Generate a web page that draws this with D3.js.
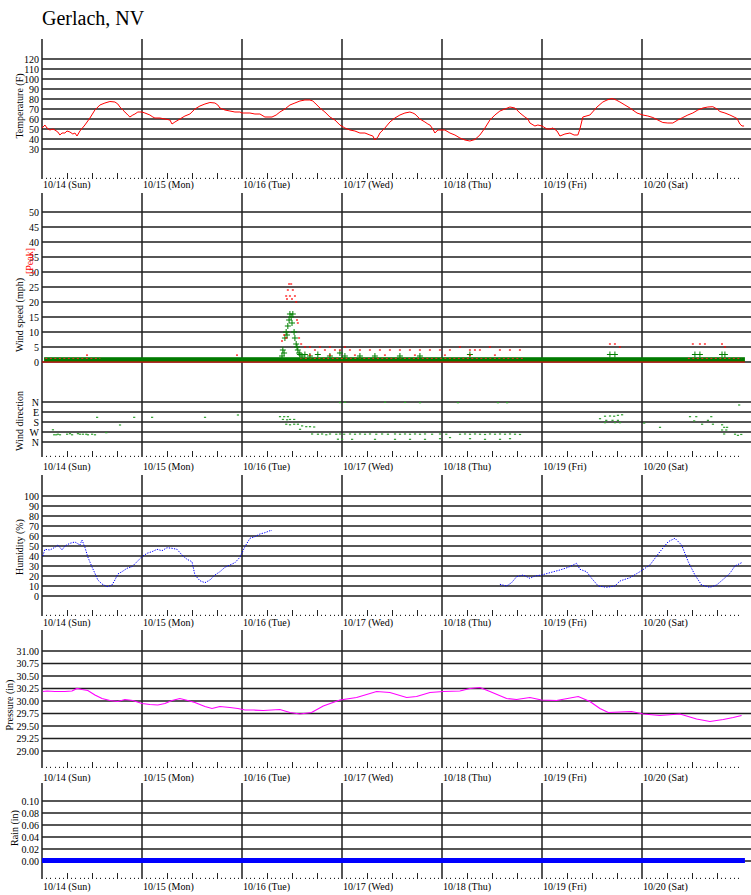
<!DOCTYPE html>
<html><head><meta charset="utf-8">
<script src="https://cdn.jsdelivr.net/npm/d3@7"></script>
<style>
body{margin:0;background:#fff}
</style>
</head><body>
<svg id="c" width="751" height="895"></svg>
<script>
// ---------------- DATA ----------------
const title = "Gerlach, NV";
const dayLabels = ["10/14 (Sun)","10/15 (Mon)","10/16 (Tue)","10/17 (Wed)","10/18 (Thu)","10/19 (Fri)","10/20 (Sat)"];
const tempTicks = [30,40,50,60,70,80,90,100,110,120];
const windTicks = [0,5,10,15,20,25,30,35,40,45,50];
const dirTicks = [0,90,180,270,360];
const dirLabels = ["N","E","S","W","N"];
const humTicks = [0,10,20,30,40,50,60,70,80,90,100];
const presTicks = [29.00,29.25,29.50,29.75,30.00,30.25,30.50,30.75,31.00];
const rainTicks = [0.00,0.02,0.04,0.06,0.08,0.10];

// [hours since 10/14 00:00, value]
const tempReadings = [[0,51],[0.5,53],[0.7,54],[1.2,51],[1.9,49],[2.6,50],[3.1,49],[3.8,47],[4.3,44],[4.8,46],[5.5,46],[6,48],[6.7,47],[7.4,45],[7.9,46],[8.4,43],[9.1,48],[10.3,54],[11.5,61],[12.7,69],[13.9,74],[15.1,76],[16.3,77.5],[17.5,77],[18.2,75],[18.7,72],[19.4,69],[19.9,67],[20.6,64],[21.1,62],[21.8,64],[22.3,65],[23,67],[23.5,67],[24,67],[24.7,66],[25.9,64],[26.6,62],[27.1,61],[28.3,61],[29.5,60],[30.7,59],[31.2,55],[31.9,57],[33.1,60],[34.3,63],[35.5,65],[36.7,70],[37.9,73],[39.1,75],[40.3,76.5],[41.5,76],[42.2,74],[42.7,71],[43.9,69],[45.1,68],[46.3,67],[47.5,67],[48,66],
[49.9,66],[51.1,65],[52.3,65],[53.5,62],[55.2,62],[56.2,64],[57.1,67],[58.3,70],[59.5,74],[60.7,76],[61.9,78],[63.1,79],[64.3,79],[65,78],[65.5,76],[66.7,71],[67.9,67],[69.1,62],[70.3,59],[71.5,54],[72.7,51],[73.9,49],[75.1,48],[76.3,46],[77.5,46],[78.7,44],[79.4,43],[79.9,39],[80.6,42],[81.1,46],[82.3,51],[83.5,57],[84.7,61],[85.9,64],[87.1,66],[88.3,67],[89,66],[89.5,65],[90.7,60],[91.9,57],[92.6,55],[93.1,54],[93.8,50],[94.3,46],[95,49],[95.5,49],[96.7,49],[97.9,46],[99.1,44],[100.3,41],[101.5,39],[102.7,38],[103.9,39.5],[105.1,44],[106.3,51],[107.5,59],[108.7,64],[109.9,68],[111.1,70],[112.3,72],[113.5,71],[114.7,66],[115.9,62],[116.6,60],[117.1,56],[118.3,53],[119,54],[120,53],[121.2,50],[121.9,50],[122.6,51],[123.6,48],[124.3,43],[125.5,45],[126.7,46],[127.7,44],[128.6,44],[129.1,50],[129.8,62],[131.5,64],[133.2,72],[134.6,77],[135.6,79],[136.8,80.5],[137.8,79],[138.7,77],[139.9,74],[141.1,71],[142.8,66],[144.2,64],[145.4,63],[146.6,61.5],[147.8,59],[149,56.5],[150.2,56],[151.4,56],[152.6,59],[153.8,61.5],[155,64],[156.2,66],[157.4,69],[158.6,71],[159.8,72],[161,72.3],[162,70],[162.7,67.5],[163.9,66],[165.1,64],[166.1,62],[166.8,60.5],[167.5,55],[168,53],[168.5,53]];

// average wind (green +) above the calm band
const windReadings = [[57.6,2],[57.8,4],[58.1,3],[58.3,8],[58.6,10],[58.8,9],[59.0,12],[59.3,14],[59.5,16],[59.8,15],[60.0,13],[60.2,16],[60.5,10],[60.7,8],[61.0,6],[61.2,5],[61.4,4],[61.7,3],[61.9,2.5],[62.4,2],[63.1,2.5],[64.3,2],[66.2,2.5],[69.1,2],[71.5,3],[72.7,2],[76.3,2],[79.9,2],[85.9,2],[90.7,2],[102.7,2.5],[136.3,2.5],[137.5,2.5],[156.7,2.5],[157.9,2.5],[163.2,2.5],[163.9,2.5]];
// calm periods: [start hour, end hour, speed]
const windCalm = [[0.5,168.7,1.6]];
// peak wind (red)
const peakReadings = [[59.3,26],[59.8,26],[59.0,24],[60.2,24],[58.6,22],[59.5,22],[60.7,22],[58.8,21],[60.0,21],[61.0,20],[61.2,14],[61.4,13],[58.1,9],[58.6,8],[61.7,8],[57.6,7],[62.2,6],[63.1,5],[64.3,5],[65.5,4],[66.7,5],[67.9,4],[69.1,5],[70.3,4],[71.5,4],[72.7,5],[73.9,4],[76.3,4],[78.7,4],[81.1,4],[83.5,4],[85.9,4],[88.3,4],[90.7,4],[93.1,4],[95.5,4],[97.9,4],[100.3,5],[102.7,4],[103.9,4],[105.1,4],[107.5,5],[109.9,4],[112.3,4],[114.7,4],[136.3,6],[137.5,6],[138.7,5],[156.2,6],[157.9,6],[159.1,6],[163.2,6],[163.9,5],
[10.8,2.3],[46.8,2.3],[64.3,2.3],[69.1,2.3],[75.1,2.3],[82.3,2.3],[89.5,2.3],[96.7,2.3],[102.7,2.3],[108.7,2.3]];
// spans of peak readings sitting on the calm band: [start, end]
const peakCalm = [[0.8,14],[62,116],[155,168]];
const peakCalmSpeed = 1.2;
const peakBase = [[0,0],[168.7,0]];

// wind direction [hour, degrees]
const dirReadings = [[2.6,250],[2.9,295],[3.4,295],[3.8,290],[4.3,295],[6,290],[6.7,285],[7.2,295],[8.6,285],[9.1,290],[9.8,290],[10.6,290],[11,295],[12,290],[12.7,295],[13.2,138],[15.4,276],[18.7,207],[22.1,138],[26.4,138],[39.1,138],[47,117],
[57.1,132],[58.1,132],[59,132],[57.8,157],[58.8,160],[59.5,157],[60.5,157],[58.6,200],[59.5,205],[60.5,200],[61.4,200],[62.4,215],[63.4,222],[64.3,222],[65.3,225],[61.9,246],[64.8,288],[66.2,290],[67.2,288],[68.2,295],[69.1,288],[70.6,290],[71.5,288],[72.7,3],[71.5,5],[72.5,290],[73.9,288],[75.1,290],[76.3,288],[77.5,290],[78.7,288],[71,335],[72,336],[74.4,336],[80.2,290],[81.6,288],[83,290],[84.7,288],[85.9,290],[87.1,288],[88.3,290],[89.5,288],[90.7,290],[91.9,288],[79.9,336],[84.7,336],[88.3,336],[91.9,336],[82.3,2],[87.1,4],[90.7,6],
[93.6,290],[95.5,288],[97,290],[97.9,320],[100.3,290],[101.5,288],[102.7,290],[103.9,288],[105.1,290],[106.3,292],[107.5,288],[108.7,290],[109.9,288],[111.1,290],[112.3,288],[113.5,290],[114.7,292],[99.8,6],[109.4,6],[111.6,6],[102.7,330],[106.3,336],[95.5,330],[109.9,336],[112.3,330],
[133.9,150],[135.1,128],[136.3,126],[137.3,128],[138.2,120],[139.2,115],[135.4,165],[136.9,165],[138.2,165],[135.1,186],[137.5,186],[138.7,186],[144.5,190],[148.3,228],
[155.5,132],[157,132],[160.6,132],[156.5,170],[159.8,165],[158.4,200],[161,200],[163.2,205],[163.7,228],[164.4,228],[163.2,252],[164.2,252],[163.7,288],[166.3,290],[167,300],[167.8,292],[167.3,27]];

const humReadings = [[0.2,40],[0.7,46.7],[1.9,46],[3.1,48.7],[3.8,51],[4.8,46],[5.5,50],[6.7,52.7],[7.9,54],[9.1,51],[9.6,56],[10.3,48.7],[11,39],[12,29],[12.7,22.7],[13.4,16],[14.4,12],[15.6,9.3],[16.8,11],[17.5,16],[18.2,22],[19.2,24.3],[20.4,27.7],[21.6,29.3],[22.8,34.3],[24,39.3],[25.2,42.7],[26.4,44.3],[27.6,46.7],[28.8,45.3],[30,48.3],[31.2,47.7],[32.4,46.7],[33.6,41],[34.8,36.7],[36,34.3],[36.7,21],[37.9,15.3],[39.1,13.3],[40.3,16],[41.5,21],[42.7,24.3],[43.9,28.7],[45.1,31],[46.3,33.3],[47.5,38.7],[48.7,49.3],[49.9,57.7],[51.1,59.3],[52.3,62],[53.5,63.3],[54.7,65.3],[55.2,65.5],
[80,null],
[109.9,11.7],[111.5,10],[112.7,13.3],[113.9,19.3],[115.5,21],[117.1,17.7],[118.3,20],[119.9,21],[121.9,23.3],[124.3,26],[126.3,28.7],[128.3,32.7],[129.1,26.7],[130.7,24.3],[131.9,17.7],[133.5,10],[135.5,8.7],[137.5,10],[138.7,15],[141.1,18.3],[143.5,24.3],[145.9,31],[148.3,44.3],[150.3,54.3],[151.9,57.7],[153.5,51],[155.1,34.3],[156.7,21],[158.3,11],[160.3,8.7],[161.9,11],[163.5,16.7],[165.1,22.7],[166.3,30],[167.9,33.3]];

const presReadings = [[0.2,30.19],[1.2,30.2],[3.1,30.19],[5.5,30.19],[7.2,30.2],[8.4,30.25],[9.6,30.23],[11,30.21],[12.7,30.12],[14.4,30.05],[16.3,30.01],[18.2,29.99],[19.9,30.03],[21.8,30.01],[24,29.95],[25.9,29.93],[27.8,29.92],[29.5,29.95],[31.2,30.01],[33.1,30.05],[35,30.01],[36.7,29.97],[39.1,29.89],[40.8,29.85],[42.7,29.89],[45.1,29.87],[47,29.85],[48.7,29.82],[50.7,29.82],[53.1,29.81],[57.1,29.83],[59.5,29.77],[61.9,29.74],[64.7,29.77],[67.5,29.9],[71.5,30.02],[75.5,30.07],[80.3,30.19],[83.5,30.17],[87.5,30.07],[89.9,30.09],[93.1,30.17],[96.3,30.19],[100.3,30.2],[102.7,30.25],[105.1,30.27],[107.5,30.19],[111.5,30.05],[113.9,30.03],[117.1,30.07],[119.9,30.02],[123.5,30.01],[128.7,30.09],[131.5,29.99],[133.9,29.85],[135.9,29.77],[141.5,29.79],[144.3,29.74],[148.3,29.71],[153.1,29.74],[157.1,29.64],[160.3,29.59],[163.5,29.63],[165.9,29.67],[167.9,29.71]];

const rainReadings = [[0,0],[24,0],[48,0],[72,0],[96,0],[120,0],[144,0],[168.7,0]];

// ---------------- DRAW ----------------
const FONT = "Liberation Serif";
const svg = d3.select("#c");
const W = 751;
const x = d3.scaleLinear().domain([0,168]).range([42,742]);

const yTemp = d3.scaleLinear().domain([0,140]).range([179,39]);
const yWind = d3.scaleLinear().domain([0,50]).range([362,212]);
const yDir  = d3.scaleLinear().domain([0,360]).range([402,442]);
const yHum  = d3.scaleLinear().domain([0,100]).range([596,496]);
const yPres = d3.scaleLinear().domain([29,31]).range([751,651]);
const yRain = d3.scaleLinear().domain([0,0.1]).range([861,801]);

const gridC = "#1e1e1e";

function txt(sel){ return sel.append("text").attr("font-family",FONT).attr("fill","#000"); }

txt(svg).attr("x",42).attr("y",25).attr("font-size",20).text(title);

function frame(top, bottom, labelY){
  const g = svg.append("g");
  const dayIdx = dayLabels.map((d,i)=>i);
  g.selectAll("line.day").data(dayIdx).enter().append("line")
    .attr("x1",d=>x(d*24)).attr("x2",d=>x(d*24))
    .attr("y1",top).attr("y2",bottom)
    .attr("stroke",gridC).attr("stroke-width",1.5);
  const hrs = d3.range(1,168).filter(h=>h%24!==0);
  g.selectAll("line.hr").data(hrs).enter().append("line")
    .attr("x1",h=>Math.round(x(h))+0.5).attr("x2",h=>Math.round(x(h))+0.5)
    .attr("y1",h=>h%6===0?bottom-6:bottom-1.2).attr("y2",bottom)
    .attr("stroke","#222").attr("stroke-width",1);
  g.selectAll("text.day").data(dayLabels).enter().append("text")
    .attr("font-family",FONT).attr("fill","#000")
    .attr("x",(d,i)=>x(i*24)+1).attr("y",labelY)
    .attr("font-size",10).text(d=>d);
}

function grid(scale, ticks, labels){
  const g = svg.append("g");
  g.selectAll("line").data(ticks).enter().append("line")
    .attr("x1",42).attr("x2",W)
    .attr("y1",d=>scale(d)).attr("y2",d=>scale(d))
    .attr("stroke",gridC).attr("stroke-width",1.5);
  g.selectAll("text").data(ticks).enter().append("text")
    .attr("font-family",FONT).attr("fill","#000")
    .attr("x",39).attr("y",d=>scale(d)).attr("dy","0.35em")
    .attr("text-anchor","end").attr("font-size",10)
    .text((d,i)=>labels(d,i));
}

function ytitle(t, cx, cy, color){
  txt(svg).attr("transform",`translate(${cx},${cy}) rotate(-90)`)
    .attr("text-anchor","middle").attr("dy","0.35em").attr("font-size",10)
    .attr("fill",color||"#000").text(t);
}

// Panels frames
frame(39,179,188);
frame(193,457,470);
frame(475,616,626);
frame(630,768,781);
frame(783,879,890);

grid(yTemp, tempTicks, d=>d);
grid(yWind, windTicks, d=>d);
grid(yDir, dirTicks, (d,i)=>dirLabels[i]);
grid(yHum, humTicks, d=>d);
grid(yPres, presTicks, d=>d.toFixed(2));
grid(yRain, rainTicks, d=>d.toFixed(2));

ytitle("Temperature (F)",19,106);
ytitle("Wind speed (mph)",19,315);
ytitle("[Peak]",29,261,"#ff0000");
ytitle("Wind direction",19,421);
ytitle("Humidity (%)",19,547);
ytitle("Pressure (in)",9,705);
ytitle("Rain (in)",14,828);

// Temperature
const lineT = d3.line().x(d=>x(d[0])).y(d=>yTemp(d[1]));
svg.append("path").datum(tempReadings).attr("d",lineT)
  .attr("fill","none").attr("stroke","#ff0000").attr("stroke-width",1);

// Wind calm band
svg.append("g").selectAll("rect").data(windCalm).enter().append("rect")
  .attr("x",d=>x(d[0])).attr("width",d=>x(d[1])-x(d[0]))
  .attr("y",d=>yWind(d[2])).attr("height",d=>yWind(0)-yWind(d[2]))
  .attr("fill","#007a00");
// red peak baseline
svg.append("path").datum(peakBase)
  .attr("d",d3.line().x(d=>x(d[0])).y(d=>yWind(d[1])))
  .attr("stroke","#ff0000").attr("stroke-width",1.2).attr("fill","none");
// red peaks on band
svg.append("g").selectAll("line").data(peakCalm).enter().append("line")
  .attr("x1",d=>x(d[0])).attr("x2",d=>x(d[1]))
  .attr("y1",yWind(peakCalmSpeed)).attr("y2",yWind(peakCalmSpeed))
  .attr("stroke","#ff2020").attr("stroke-width",1).attr("stroke-dasharray","2,2.5");
// green crosses
const gw = svg.append("g").attr("stroke","#008000").attr("stroke-width",1);
windReadings.forEach(d=>{
  const cx = x(d[0]), cy = yWind(d[1]);
  gw.append("line").attr("x1",cx-3).attr("x2",cx+3).attr("y1",cy).attr("y2",cy);
  gw.append("line").attr("x1",cx).attr("x2",cx).attr("y1",cy-3).attr("y2",cy+3);
});
// red peak dots
svg.append("g").selectAll("rect").data(peakReadings).enter().append("rect")
  .attr("x",d=>x(d[0])-1).attr("y",d=>yWind(d[1])-0.6)
  .attr("width",2).attr("height",1.2).attr("fill","#ff0000");

// Wind direction
svg.append("g").selectAll("rect").data(dirReadings).enter().append("rect")
  .attr("x",d=>x(d[0])-1).attr("y",d=>yDir(d[1])-0.6)
  .attr("width",2.2).attr("height",1.2).attr("fill","#2f9f2f");

// Humidity (dotted)
svg.append("path").datum(humReadings)
  .attr("d",d3.line().defined(d=>d[1]!==null).x(d=>x(d[0])).y(d=>yHum(d[1])))
  .attr("fill","none").attr("stroke","#0000ff").attr("stroke-width",1)
  .attr("stroke-dasharray","1.3,1.3");

// Pressure
svg.append("path").datum(presReadings)
  .attr("d",d3.line().x(d=>x(d[0])).y(d=>yPres(d[1])))
  .attr("fill","none").attr("stroke","#ff00ff").attr("stroke-width",1.2);

// Rain
svg.append("path").datum(rainReadings)
  .attr("d",d3.line().x(d=>x(d[0])).y(d=>yRain(d[1])-0.6))
  .attr("fill","none").attr("stroke","#0000ff").attr("stroke-width",5);
</script>
</body></html>
